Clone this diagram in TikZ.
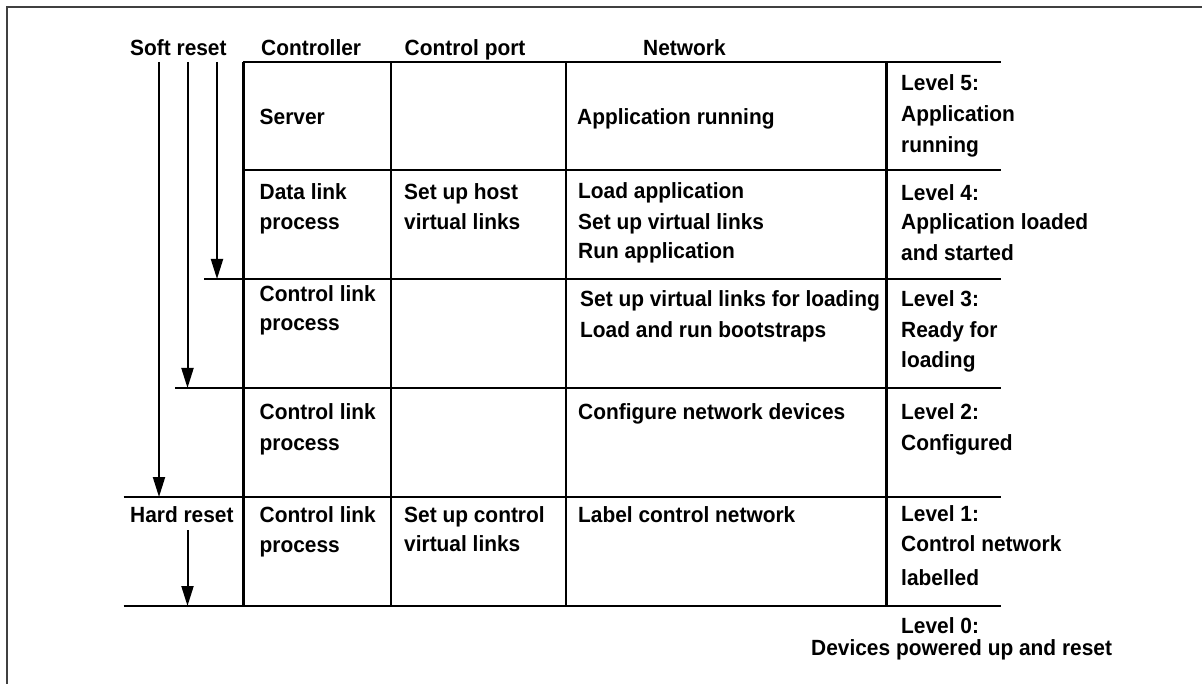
\documentclass[tikz,border=0pt]{standalone}
\usepackage{fontspec}
\setmainfont{Liberation Sans}
\newfontfamily\lbfont{Liberation Sans Bold}[FakeStretch=0.95]
\usetikzlibrary{arrows.meta}
\tikzset{
  lbl/.style={anchor=base west, inner sep=0pt, font=\lbfont\fontsize{22}{27}\selectfont},
  grid/.style={line width=2.4pt, black},
  frame/.style={line width=2pt, black!75},
  resetarrow/.style={line width=2pt, -{Triangle[length=20pt,width=12pt]}},
}
\begin{document}
\begin{tikzpicture}[x=1pt,y=-1pt]
\useasboundingbox (0,0) rectangle (1202,684);
% frame
\draw[frame] (7,684) -- (7,7) -- (1202,7);
% table grid
\coordinate (h0l) at (243.4,62);  \coordinate (h0r) at (1001,62);
\coordinate (h1l) at (243.4,170); \coordinate (h1r) at (1001,170);
\coordinate (h2l) at (204,279);   \coordinate (h2r) at (1001,279);
\coordinate (h3l) at (175,388);   \coordinate (h3r) at (1001,388);
\coordinate (h4l) at (123.6,497); \coordinate (h4r) at (1001,497);
\coordinate (h5l) at (123.6,606); \coordinate (h5r) at (1001,606);
\foreach \i in {0,...,5} {\draw[grid] (h\i l) -- (h\i r);}
\foreach \x/\n in {243.4/a,391/b,566/c,886.4/d} {
  \coordinate (v\n t) at (\x,62); \coordinate (v\n b) at (\x,606);
  \draw[grid] (v\n t) -- (v\n b);
}
% arrows
\coordinate (s1) at (159,62);   \coordinate (e1) at (159,497);
\coordinate (s2) at (187.5,62); \coordinate (e2) at (187.5,388);
\coordinate (s3) at (217,62);   \coordinate (e3) at (217,279);
\coordinate (s4) at (187.5,530);\coordinate (e4) at (187.5,606);
\draw[resetarrow] (s1) -- (e1);
\draw[resetarrow] (s2) -- (e2);
\draw[resetarrow] (s3) -- (e3);
\draw[resetarrow] (s4) -- (e4);
% headers
\node[lbl] (soft) at (130,56) {Soft reset};
\node[lbl] (hctl) at (261,56) {Controller};
\node[lbl] (hport) at (404.5,56) {Control port};
\node[lbl] (hnet) at (643,56) {Network};
% row 1
\node[lbl] (r1c) at (259.5,125) {Server};
\node[lbl] (r1n) at (577,125) {Application running};
\node[lbl] (r1la) at (901,91) {Level 5:};
\node[lbl] (r1lb) at (901,122) {Application};
\node[lbl] (r1lc) at (901,153) {running};
% row 2
\node[lbl] (r2ca) at (259.5,200) {Data link};
\node[lbl] (r2cb) at (259.5,230) {process};
\node[lbl] (r2pa) at (404,200) {Set up host};
\node[lbl] (r2pb) at (404,230) {virtual links};
\node[lbl] (r2na) at (578,199) {Load application};
\node[lbl] (r2nb) at (578,230) {Set up virtual links};
\node[lbl] (r2nc) at (578,259) {Run application};
\node[lbl] (r2la) at (901,201) {Level 4:};
\node[lbl] (r2lb) at (901,230) {Application loaded};
\node[lbl] (r2lc) at (901,261) {and started};
% row 3
\node[lbl] (r3ca) at (259.5,302) {Control link};
\node[lbl] (r3cb) at (259.5,331) {process};
\node[lbl] (r3na) at (580,307) {Set up virtual links for loading};
\node[lbl] (r3nb) at (580,338) {Load and run bootstraps};
\node[lbl] (r3la) at (901,307) {Level 3:};
\node[lbl] (r3lb) at (901,338) {Ready for};
\node[lbl] (r3lc) at (901,368) {loading};
% row 4
\node[lbl] (r4ca) at (259.5,420) {Control link};
\node[lbl] (r4cb) at (259.5,450) {process};
\node[lbl] (r4n) at (578,420) {Configure network devices};
\node[lbl] (r4la) at (901,420) {Level 2:};
\node[lbl] (r4lb) at (901,450) {Configured};
% row 5
\node[lbl] (hard) at (130,522) {Hard reset};
\node[lbl] (r5ca) at (259.5,522) {Control link};
\node[lbl] (r5cb) at (259.5,552) {process};
\node[lbl] (r5pa) at (404,522) {Set up control};
\node[lbl] (r5pb) at (404,551) {virtual links};
\node[lbl] (r5n) at (578,522) {Label control network};
\node[lbl] (r5la) at (901,521) {Level 1:};
\node[lbl] (r5lb) at (901,551) {Control network};
\node[lbl] (r5lc) at (901,585) {labelled};
% level 0
\node[lbl] (l0a) at (901,633) {Level 0:};
\node[lbl] (l0b) at (811,655) {Devices powered up and reset};
\end{tikzpicture}
\end{document}
